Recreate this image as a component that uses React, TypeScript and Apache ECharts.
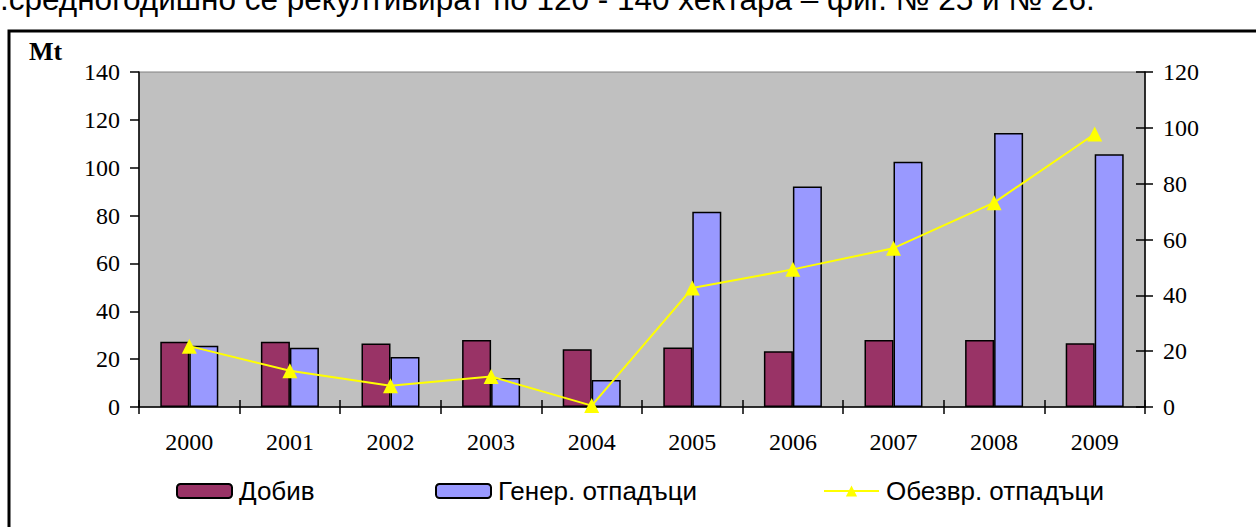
import React, { useEffect, useRef } from 'react';
import * as echarts from 'echarts';

const years = ['2000', '2001', '2002', '2003', '2004', '2005', '2006', '2007', '2008', '2009'];
const dobiv = [27.3, 27.3, 26.5, 28.0, 24.1, 24.9, 23.3, 28.0, 28.0, 26.6];
const generated = [25.6, 24.8, 20.9, 12.1, 11.3, 81.6, 92.1, 102.5, 114.5, 105.6];
const neutralized = [21.8, 13.0, 7.6, 10.9, 0.5, 42.6, 49.3, 56.9, 73.2, 97.8];

const seriesNames = ['Добив', 'Генер. отпадъци', 'Обезвр. отпадъци'];
const leftAxis = { min: 0, max: 140, interval: 20 };
const rightAxis = { min: 0, max: 120, interval: 20 };
const unitLabel = 'Mt';
const headerText = '.средногодишно се рекултивират по 120 - 140 хектара – фиг. № 25 и № 26.';

const SERIF = '"Liberation Serif", "Times New Roman", serif';
const SANS = '"Liberation Sans", Arial, sans-serif';

export default function App() {
  const ref = useRef<HTMLDivElement>(null);

  useEffect(() => {
    document.body.style.margin = '0';
    const chart = echarts.init(ref.current as HTMLDivElement, null, { renderer: 'svg' });
    const axisLabelStyle = { color: '#000', fontFamily: SERIF, fontSize: 24 };
    const legendBase = {
      orient: 'horizontal',
      top: 478,
      padding: 0,
      itemWidth: 55,
      itemHeight: 14,
      itemGap: 5,
      textStyle: { color: '#000', fontFamily: SANS, fontSize: 26, padding: [0, 0, 0, 2] },
    };
    chart.setOption({
      animation: false,
      backgroundColor: '#fff',
      graphic: [
        {
          type: 'text',
          left: 0,
          top: -17,
          style: { text: headerText, font: '31.5px ' + SANS, fill: '#000' },
        },
        {
          type: 'rect',
          shape: { x: 9, y: 31, width: 1400, height: 700 },
          style: { fill: 'none', stroke: '#000', lineWidth: 3 },
        },
        {
          type: 'text',
          left: 29,
          top: 38,
          style: { text: unitLabel, font: 'bold 26px ' + SERIF, fill: '#000' },
        },
      ],
      grid: {
        left: 139,
        right: 111,
        top: 72,
        bottom: 120,
        show: true,
        backgroundColor: '#C0C0C0',
        borderColor: '#808080',
        borderWidth: 1,
      },
      legend: [
        { ...legendBase, left: 176, data: [seriesNames[0]] },
        { ...legendBase, left: 435, data: [seriesNames[1]] },
        { ...legendBase, left: 823, data: [seriesNames[2]] },
      ],
      xAxis: [
        {
          type: 'category',
          data: years,
          axisLine: { lineStyle: { color: '#000', width: 1.5 } },
          axisTick: { show: true, length: 7, lineStyle: { color: '#000', width: 1.5 } },
          axisLabel: { ...axisLabelStyle, margin: 23 },
        },
        {
          type: 'category',
          data: years,
          position: 'bottom',
          axisLine: { show: false },
          axisTick: { show: true, inside: true, length: 7, lineStyle: { color: '#000', width: 1.5 } },
          axisLabel: { show: false },
        },
      ],
      yAxis: [
        {
          type: 'value',
          position: 'left',
          ...leftAxis,
          splitLine: { show: false },
          axisLine: { show: true, lineStyle: { color: '#000', width: 1.5 } },
          axisTick: { show: true, length: 9, lineStyle: { color: '#000', width: 1.5 } },
          axisLabel: { ...axisLabelStyle, margin: 19 },
        },
        {
          type: 'value',
          position: 'right',
          ...rightAxis,
          splitLine: { show: false },
          axisLine: { show: true, lineStyle: { color: '#000', width: 1.5 } },
          axisTick: { show: true, length: 8, lineStyle: { color: '#000', width: 1.5 } },
          axisLabel: { ...axisLabelStyle, margin: 18 },
        },
        {
          type: 'value',
          position: 'right',
          ...rightAxis,
          splitLine: { show: false },
          axisLine: { show: false },
          axisTick: { show: true, inside: true, length: 9, lineStyle: { color: '#000', width: 1.5 } },
          axisLabel: { show: false },
        },
      ],
      series: [
        {
          name: seriesNames[0],
          type: 'bar',
          data: dobiv,
          barWidth: 29,
          barGap: '0%',
          itemStyle: { color: '#993366', borderColor: '#000', borderWidth: 1.5 },
        },
        {
          name: seriesNames[1],
          type: 'bar',
          data: generated,
          barWidth: 29,
          barGap: '0%',
          itemStyle: { color: '#9999FF', borderColor: '#000', borderWidth: 1.5 },
        },
        {
          name: seriesNames[2],
          type: 'line',
          yAxisIndex: 1,
          data: neutralized,
          symbol: 'triangle',
          symbolSize: 15,
          lineStyle: { color: '#FFFF00', width: 2 },
          itemStyle: { color: '#FFFF00' },
          z: 5,
        },
      ],
    });
    return () => chart.dispose();
  }, []);

  return <div ref={ref} style={{ position: 'fixed', left: 0, top: 0, width: 1256, height: 527 }} />;
}
